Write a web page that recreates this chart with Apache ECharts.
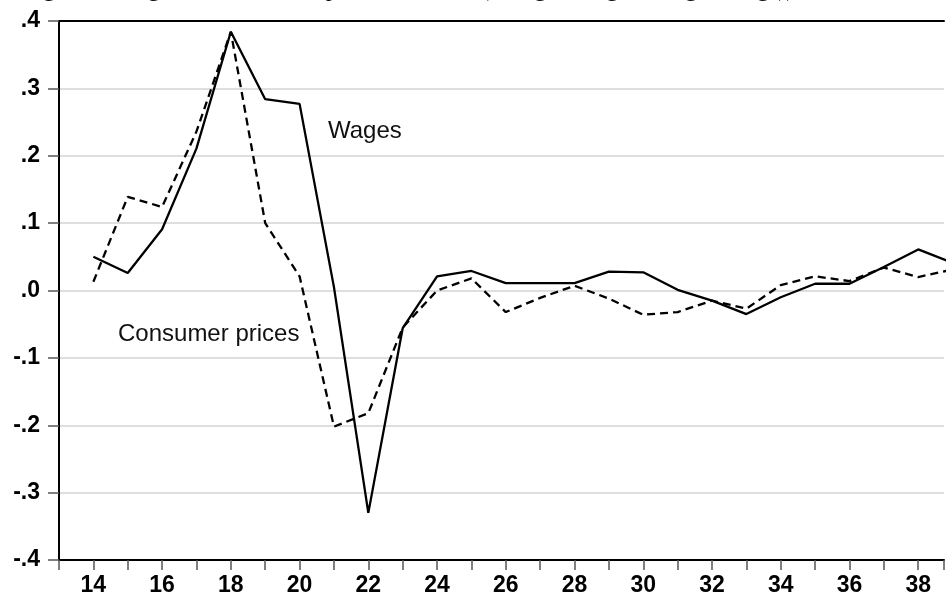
<!DOCTYPE html>
<html>
<head>
<meta charset="utf-8">
<script src="https://cdn.jsdelivr.net/npm/echarts@6/dist/echarts.min.js"></script>
<style>
  html, body { margin: 0; padding: 0; background: #fff; }
  #chart { width: 947px; height: 599px; }
</style>
</head>
<body>
<div id="chart"></div>
<script>
var years = [14, 15, 16, 17, 18, 19, 20, 21, 22, 23, 24, 25, 26, 27, 28, 29, 30, 31, 32, 33, 34, 35, 36, 37, 38, 39];
var wages = [0.050, 0.026, 0.091, 0.211, 0.384, 0.284, 0.277, 0.005, -0.330, -0.056, 0.021, 0.029, 0.011, 0.011, 0.011, 0.028, 0.027, 0.001, -0.015, -0.035, -0.010, 0.010, 0.010, 0.035, 0.061, 0.041];
var prices = [0.013, 0.139, 0.124, 0.236, 0.384, 0.100, 0.021, -0.202, -0.182, -0.055, 0.000, 0.018, -0.032, -0.011, 0.007, -0.012, -0.036, -0.032, -0.015, -0.027, 0.008, 0.021, 0.014, 0.034, 0.020, 0.031];
var yTicks = [-0.4, 0.4, 0.1];
// the picture is cut off a little before 39
var xRange = [13, 38.75];

function pairs(xs, ys) {
    var out = [];
    for (var i = 0; i < xs.length; i++) {
        out.push([xs[i], ys[i]]);
    }
    return out;
}

var mychart = echarts.init(document.getElementById("chart"));
var option = {
    animation: false,
    title: {
        text: 'Figure 6: Wages and consumer prices, 1914-39 (change in logs, change in logs)),',
        left: 18,
        top: -27,
        textStyle: {
            fontFamily: 'Liberation Serif',
            fontWeight: 'normal',
            fontSize: 24,
            color: '#000'
        }
    },
    grid: {
        left: 59,
        right: 0,
        top: 21,
        bottom: 39,
        show: false
    },
    xAxis: [
        {
            type: 'value',
            min: xRange[0],
            max: xRange[1],
            interval: 1,
            axisLine: { onZero: false, lineStyle: { color: '#000', width: 2 } },
            axisTick: { length: 10, lineStyle: { color: '#555', width: 1.5 } },
            axisLabel: {
                margin: 14,
                color: '#000',
                fontFamily: 'Liberation Sans',
                fontWeight: 'bold',
                fontSize: 23,
                formatter: function (v) {
                    return v % 2 === 0 ? String(v) : '';
                }
            },
            splitLine: { show: false }
        },
        {
            // top frame line only
            type: 'value',
            position: 'top',
            min: xRange[0],
            max: xRange[1],
            axisLine: { onZero: false, lineStyle: { color: '#000', width: 2 } },
            axisTick: { show: false },
            axisLabel: { show: false },
            splitLine: { show: false }
        }
    ],
    yAxis: {
        type: 'value',
        min: yTicks[0],
        max: yTicks[1],
        interval: yTicks[2],
        axisLine: { show: true, onZero: false, lineStyle: { color: '#000', width: 2 } },
        axisTick: { show: true, length: 11, lineStyle: { color: '#555', width: 1.5 } },
        axisLabel: {
            margin: 19,
            color: '#000',
            fontFamily: 'Liberation Sans',
            fontWeight: 'bold',
            fontSize: 23,
            formatter: function (v) {
                return v.toFixed(1).replace('0.', '.');
            }
        },
        splitLine: { show: true, lineStyle: { color: '#d3d3d3', width: 1.5 } }
    },
    graphic: [
        {
            type: 'text',
            left: 328,
            top: 119,
            style: { text: 'Wages', font: '24px "Liberation Sans"', fill: '#111' }
        },
        {
            type: 'text',
            left: 118,
            top: 322,
            style: { text: 'Consumer prices', font: '24px "Liberation Sans"', fill: '#111' }
        }
    ],
    series: [
        {
            name: 'Consumer prices',
            type: 'line',
            symbol: 'none',
            clip: true,
            data: pairs(years, prices),
            lineStyle: { color: '#000', width: 2.3, type: [8, 5] }
        },
        {
            name: 'Wages',
            type: 'line',
            symbol: 'none',
            clip: true,
            data: pairs(years, wages),
            lineStyle: { color: '#000', width: 2.3 }
        }
    ]
};
mychart.setOption(option);
</script>
</body>
</html>
